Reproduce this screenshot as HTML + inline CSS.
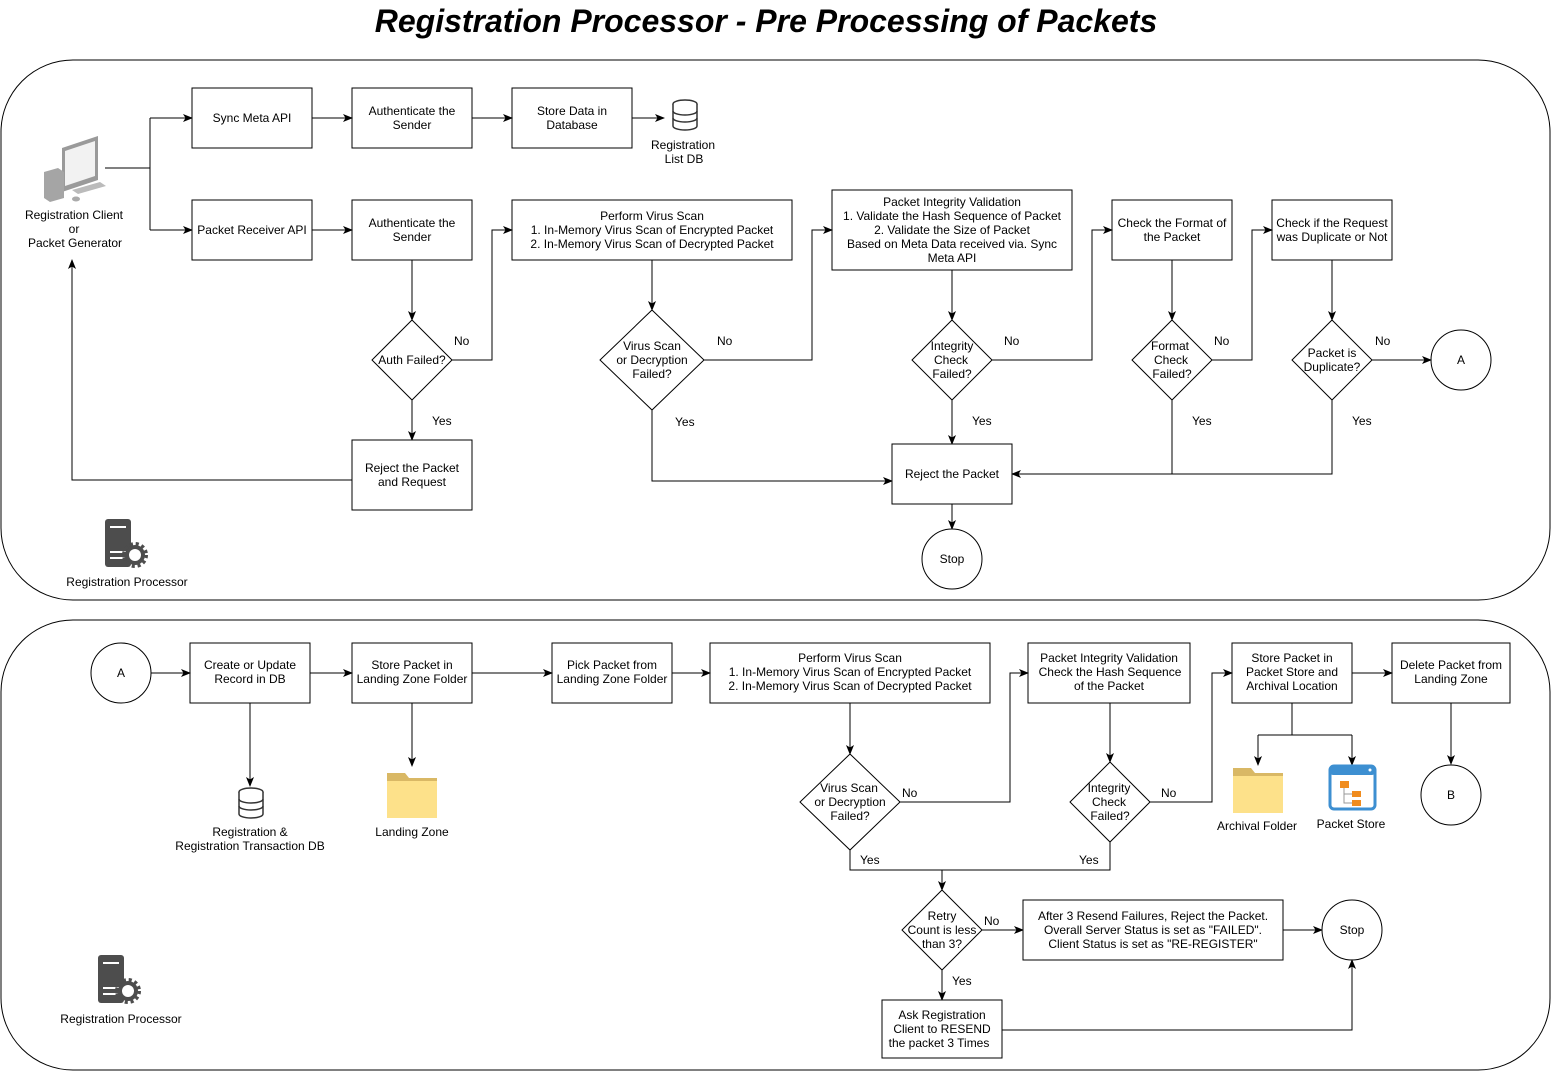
<!DOCTYPE html>
<html><head><meta charset="utf-8"><style>
html,body{margin:0;padding:0;background:#fff}
svg{display:block}
text{font-family:"Liberation Sans",Arial,sans-serif;font-size:12px;fill:#000}
.b{fill:#fff;stroke:#000;stroke-width:1}
.l{fill:none;stroke:#000;stroke-width:1}
</style></head><body>
<svg width="1551" height="1071" viewBox="0 0 1551 1071" xmlns="http://www.w3.org/2000/svg">
<defs>
<marker id="a" markerWidth="10" markerHeight="8" refX="9" refY="4" orient="auto" markerUnits="userSpaceOnUse"><path d="M0,0 L10,4 L0,8 L2.5,4 z" fill="#000"/></marker>
<g id="srv"><rect x="0" y="0" width="26" height="48" rx="3" fill="#4d4d4d"/><rect x="5" y="7" width="16" height="2" fill="#fff"/><rect x="5" y="32" width="16" height="2" fill="#fff"/><rect x="5" y="38" width="16" height="2" fill="#fff"/>
<circle cx="30" cy="36" r="10" fill="#4d4d4d"/><circle cx="30" cy="36" r="11" fill="none" stroke="#4d4d4d" stroke-width="4" stroke-dasharray="3 2.8"/><circle cx="30" cy="36" r="6" fill="#fff"/></g>
<g id="db"><ellipse cx="12" cy="4" rx="12" ry="4" fill="#fff" stroke="#333" stroke-width="1.5"/><path d="M0,4 v22 a12,4 0 0 0 24,0 v-22" fill="#fff" stroke="#333" stroke-width="1.5"/><path d="M0,11 a12,4 0 0 0 24,0 M0,18 a12,4 0 0 0 24,0" fill="none" stroke="#333" stroke-width="1.5"/></g>
<g id="fold"><path d="M0,4 h18 l4,5 h28 v40 h-50z" fill="#d9b865"/><rect x="0" y="12" width="50" height="37" fill="#fde18a"/></g>
</defs>
<text x="766" y="32" text-anchor="middle" style="font-size:32px;font-weight:bold;font-style:italic">Registration Processor - Pre Processing of Packets</text>
<rect x="1" y="60" width="1549" height="540" rx="72" class="l"/>
<rect x="1" y="620" width="1549" height="450" rx="72" class="l"/>

<g><path d="M62,148 L98,136 L98,180 L62,192z" fill="#9a9a9a"/><path d="M65,151 L95,141 L95,176 L65,186z" fill="#f2f2f2"/><path d="M44,172 L58,168 L64,172 L64,198 L50,202 L44,198z" fill="#a5a5a5"/><path d="M72,190 L100,182 L106,186 L78,194z" fill="#bbb"/><ellipse cx="76" cy="199" rx="4" ry="2.5" fill="#aaa"/></g>
<text x="74" y="219" text-anchor="middle">Registration Client</text><text x="74" y="233" text-anchor="middle">or</text><text x="75" y="247" text-anchor="middle">Packet Generator</text>
<path class="l" d="M105,168 H150 M150,118 V230"/>
<path class="l" d="M150,118 H192" marker-end="url(#a)"/><path class="l" d="M150,230 H192" marker-end="url(#a)"/>

<rect class="b" x="192" y="88" width="120" height="60"/><text x="252" y="122" text-anchor="middle">Sync Meta API</text>
<rect class="b" x="352" y="88" width="120" height="60"/><text x="412" y="115" text-anchor="middle">Authenticate the</text><text x="412" y="129" text-anchor="middle">Sender</text>
<rect class="b" x="512" y="88" width="120" height="60"/><text x="572" y="115" text-anchor="middle">Store Data in</text><text x="572" y="129" text-anchor="middle">Database</text>
<path class="l" d="M312,118 H352" marker-end="url(#a)"/><path class="l" d="M472,118 H512" marker-end="url(#a)"/><path class="l" d="M632,118 H664" marker-end="url(#a)"/>
<use href="#db" x="673" y="100"/><text x="683" y="149" text-anchor="middle">Registration</text><text x="684" y="163" text-anchor="middle">List DB</text>

<rect class="b" x="192" y="200" width="120" height="60"/><text x="252" y="234" text-anchor="middle">Packet Receiver API</text>
<rect class="b" x="352" y="200" width="120" height="60"/><text x="412" y="227" text-anchor="middle">Authenticate the</text><text x="412" y="241" text-anchor="middle">Sender</text>
<rect class="b" x="512" y="200" width="280" height="60"/><text x="652" y="220" text-anchor="middle">Perform Virus Scan</text><text x="652" y="234" text-anchor="middle">1. In-Memory Virus Scan of Encrypted Packet</text><text x="652" y="248" text-anchor="middle">2. In-Memory Virus Scan of Decrypted Packet</text>
<rect class="b" x="832" y="190" width="240" height="80"/><text x="952" y="206" text-anchor="middle">Packet Integrity Validation</text><text x="952" y="220" text-anchor="middle">1. Validate the Hash Sequence of Packet</text><text x="952" y="234" text-anchor="middle">2. Validate the Size of Packet</text><text x="952" y="248" text-anchor="middle">Based on Meta Data received via. Sync</text><text x="952" y="262" text-anchor="middle">Meta API</text>
<rect class="b" x="1112" y="200" width="120" height="60"/><text x="1172" y="227" text-anchor="middle">Check the Format of</text><text x="1172" y="241" text-anchor="middle">the Packet</text>
<rect class="b" x="1272" y="200" width="120" height="60"/><text x="1332" y="227" text-anchor="middle">Check if the Request</text><text x="1332" y="241" text-anchor="middle">was Duplicate or Not</text>
<path class="l" d="M312,230 H352" marker-end="url(#a)"/>

<path class="b" d="M412,320 L452,360 L412,400 L372,360z"/><text x="412" y="364" text-anchor="middle">Auth Failed?</text>
<path class="b" d="M652,310 L704,360 L652,410 L600,360z"/><text x="652" y="350" text-anchor="middle">Virus Scan</text><text x="652" y="364" text-anchor="middle">or Decryption</text><text x="652" y="378" text-anchor="middle">Failed?</text>
<path class="b" d="M952,320 L992,360 L952,400 L912,360z"/><text x="952" y="350" text-anchor="middle">Integrity</text><text x="951" y="364" text-anchor="middle">Check</text><text x="952" y="378" text-anchor="middle">Failed?</text>
<path class="b" d="M1172,320 L1212,360 L1172,400 L1132,360z"/><text x="1170" y="350" text-anchor="middle">Format</text><text x="1171" y="364" text-anchor="middle">Check</text><text x="1172" y="378" text-anchor="middle">Failed?</text>
<path class="b" d="M1332,320 L1372,360 L1332,400 L1292,360z"/><text x="1332" y="357" text-anchor="middle">Packet is</text><text x="1332" y="371" text-anchor="middle">Duplicate?</text>
<circle class="b" cx="1461" cy="360" r="30"/><text x="1461" y="364" text-anchor="middle">A</text>

<path class="l" d="M412,260 V320" marker-end="url(#a)"/>
<path class="l" d="M452,360 H492 V230 H512" marker-end="url(#a)"/><text x="454" y="345">No</text>
<path class="l" d="M412,400 V440" marker-end="url(#a)"/><text x="432" y="425">Yes</text>
<path class="l" d="M652,260 V310" marker-end="url(#a)"/>
<path class="l" d="M704,360 H812 V230 H832" marker-end="url(#a)"/><text x="717" y="345">No</text>
<path class="l" d="M652,410 V481 H892" marker-end="url(#a)"/><text x="675" y="426">Yes</text>
<path class="l" d="M952,270 V320" marker-end="url(#a)"/>
<path class="l" d="M992,360 H1092 V230 H1112" marker-end="url(#a)"/><text x="1004" y="345">No</text>
<path class="l" d="M952,400 V444" marker-end="url(#a)"/><text x="972" y="425">Yes</text>
<path class="l" d="M1172,260 V320" marker-end="url(#a)"/>
<path class="l" d="M1212,360 H1252 V230 H1272" marker-end="url(#a)"/><text x="1214" y="345">No</text>
<path class="l" d="M1172,400 V474 H1012" marker-end="url(#a)"/><text x="1192" y="425">Yes</text>
<path class="l" d="M1332,260 V320" marker-end="url(#a)"/>
<path class="l" d="M1372,360 H1431" marker-end="url(#a)"/><text x="1375" y="345">No</text>
<path class="l" d="M1332,400 V474 H1172"/><text x="1352" y="425">Yes</text>

<rect class="b" x="352" y="440" width="120" height="70"/><text x="412" y="472" text-anchor="middle">Reject the Packet</text><text x="412" y="486" text-anchor="middle">and Request</text>
<path class="l" d="M352,480 H72 V260" marker-end="url(#a)"/>
<rect class="b" x="892" y="444" width="120" height="60"/><text x="952" y="478" text-anchor="middle">Reject the Packet</text>
<path class="l" d="M952,504 V529" marker-end="url(#a)"/>
<circle class="b" cx="952" cy="559" r="30"/><text x="952" y="563" text-anchor="middle">Stop</text>
<use href="#srv" x="105" y="519"/><text x="127" y="586" text-anchor="middle">Registration Processor</text>

<circle class="b" cx="121" cy="673" r="30"/><text x="121" y="677" text-anchor="middle">A</text>
<rect class="b" x="190" y="643" width="120" height="60"/><text x="250" y="669" text-anchor="middle">Create or Update</text><text x="250" y="683" text-anchor="middle">Record in DB</text>
<rect class="b" x="352" y="643" width="120" height="60"/><text x="412" y="669" text-anchor="middle">Store Packet in</text><text x="412" y="683" text-anchor="middle">Landing Zone Folder</text>
<rect class="b" x="552" y="643" width="120" height="60"/><text x="612" y="669" text-anchor="middle">Pick Packet from</text><text x="612" y="683" text-anchor="middle">Landing Zone Folder</text>
<rect class="b" x="710" y="643" width="280" height="60"/><text x="850" y="662" text-anchor="middle">Perform Virus Scan</text><text x="850" y="676" text-anchor="middle">1. In-Memory Virus Scan of Encrypted Packet</text><text x="850" y="690" text-anchor="middle">2. In-Memory Virus Scan of Decrypted Packet</text>
<rect class="b" x="1028" y="643" width="162" height="60"/><text x="1109" y="662" text-anchor="middle">Packet Integrity Validation</text><text x="1110" y="676" text-anchor="middle">Check the Hash Sequence</text><text x="1109" y="690" text-anchor="middle">of the Packet</text>
<rect class="b" x="1232" y="643" width="120" height="60"/><text x="1292" y="662" text-anchor="middle">Store Packet in</text><text x="1292" y="676" text-anchor="middle">Packet Store and</text><text x="1292" y="690" text-anchor="middle">Archival Location</text>
<rect class="b" x="1392" y="643" width="118" height="60"/><text x="1451" y="669" text-anchor="middle">Delete Packet from</text><text x="1451" y="683" text-anchor="middle">Landing Zone</text>
<path class="l" d="M151,673 H190" marker-end="url(#a)"/><path class="l" d="M310,673 H352" marker-end="url(#a)"/><path class="l" d="M472,673 H552" marker-end="url(#a)"/><path class="l" d="M672,673 H710" marker-end="url(#a)"/><path class="l" d="M1352,673 H1392" marker-end="url(#a)"/>

<path class="l" d="M250,703 V786" marker-end="url(#a)"/><use href="#db" x="239" y="788"/>
<text x="250" y="836" text-anchor="middle">Registration &amp;</text><text x="250" y="850" text-anchor="middle">Registration Transaction DB</text>
<path class="l" d="M412,703 V766" marker-end="url(#a)"/><use href="#fold" x="387" y="769"/><text x="412" y="836" text-anchor="middle">Landing Zone</text>

<path class="b" d="M850,754 L900,802 L850,850 L800,802z"/><text x="849" y="792" text-anchor="middle">Virus Scan</text><text x="850" y="806" text-anchor="middle">or Decryption</text><text x="850" y="820" text-anchor="middle">Failed?</text>
<path class="l" d="M850,703 V754" marker-end="url(#a)"/>
<path class="l" d="M900,802 H1010 V673 H1028" marker-end="url(#a)"/><text x="902" y="797">No</text>
<path class="b" d="M1110,762 L1150,802 L1110,842 L1070,802z"/><text x="1109" y="792" text-anchor="middle">Integrity</text><text x="1109" y="806" text-anchor="middle">Check</text><text x="1110" y="820" text-anchor="middle">Failed?</text>
<path class="l" d="M1110,703 V762" marker-end="url(#a)"/>
<path class="l" d="M1150,802 H1212 V673 H1232" marker-end="url(#a)"/><text x="1161" y="797">No</text>
<path class="l" d="M850,850 V870 H1110 V842"/><text x="860" y="864">Yes</text><text x="1079" y="864">Yes</text>
<path class="l" d="M942,870 V890" marker-end="url(#a)"/>

<path class="l" d="M1292,703 V735 M1258,735 H1352"/><path class="l" d="M1258,735 V765" marker-end="url(#a)"/><path class="l" d="M1352,735 V765" marker-end="url(#a)"/>
<use href="#fold" x="1233" y="764"/><text x="1257" y="830" text-anchor="middle">Archival Folder</text>
<g><rect x="1330" y="766" width="45" height="43" rx="4" fill="#fff" stroke="#3d8fd1" stroke-width="3"/><rect x="1330" y="766" width="45" height="9" rx="3" fill="#3d8fd1"/><circle cx="1370" cy="770" r="1.5" fill="#fff"/><rect x="1340" y="781" width="9" height="7" fill="#f08c1e"/><rect x="1352" y="791" width="9" height="6" fill="#f08c1e"/><rect x="1352" y="800" width="9" height="6" fill="#f08c1e"/><path d="M1344,788 V803 H1352 M1344,794 H1352" stroke="#999" fill="none"/></g>
<text x="1351" y="828" text-anchor="middle">Packet Store</text>
<path class="l" d="M1451,703 V764" marker-end="url(#a)"/><circle class="b" cx="1451" cy="795" r="30"/><text x="1451" y="799" text-anchor="middle">B</text>

<path class="b" d="M942,890 L982,930 L942,970 L902,930z"/><text x="942" y="920" text-anchor="middle">Retry</text><text x="942" y="934" text-anchor="middle">Count is less</text><text x="942" y="948" text-anchor="middle">than 3?</text>
<path class="l" d="M982,930 H1023" marker-end="url(#a)"/><text x="984" y="925">No</text>
<rect class="b" x="1023" y="900" width="260" height="60"/><text x="1153" y="920" text-anchor="middle">After 3 Resend Failures, Reject the Packet.</text><text x="1153" y="934" text-anchor="middle">Overall Server Status is set as "FAILED".</text><text x="1153" y="948" text-anchor="middle">Client Status is set as "RE-REGISTER"</text>
<path class="l" d="M1283,930 H1322" marker-end="url(#a)"/>
<circle class="b" cx="1352" cy="930" r="30"/><text x="1352" y="934" text-anchor="middle">Stop</text>
<path class="l" d="M942,970 V1000" marker-end="url(#a)"/><text x="952" y="985">Yes</text>
<rect class="b" x="882" y="1000" width="120" height="58"/><text x="942" y="1019" text-anchor="middle">Ask Registration</text><text x="942" y="1033" text-anchor="middle">Client to RESEND</text><text x="939" y="1047" text-anchor="middle">the packet 3 Times</text>
<path class="l" d="M1002,1030 H1352 V960" marker-end="url(#a)"/>
<use href="#srv" x="98" y="955"/><text x="121" y="1023" text-anchor="middle">Registration Processor</text>
</svg>
</body></html>
